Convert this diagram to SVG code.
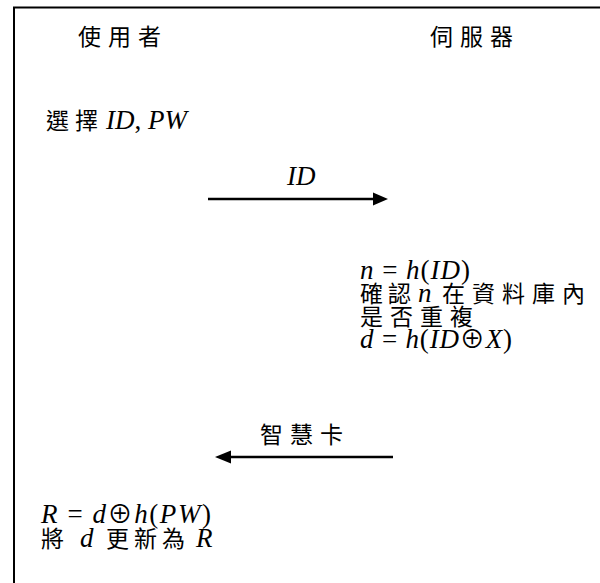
<svg xmlns="http://www.w3.org/2000/svg" width="600" height="583" viewBox="0 0 600 583">
<style>
text{font-family:"Liberation Serif","Noto Sans CJK TC",serif;font-size:27px;fill:#000}
.cjk{font-family:"Noto Sans CJK TC","Noto Sans CJK SC",sans-serif;font-size:23px}
.it{font-style:italic}
.xor{font-family:"Noto Sans CJK TC","DejaVu Sans",sans-serif;font-size:25px;font-style:normal}
.frame{fill:none;stroke:#000;stroke-width:2}
.conn{stroke:#000;stroke-width:2.5;fill:none}
.head{fill:#000}
</style>
<rect width="600" height="583" fill="#fff"/>
<path class="frame" d="M14 583 V7.5 H600"/>
<g id="user-title"><text x="78" y="45" class="cjk" letter-spacing="7">使用者</text></g>
<g id="server-title"><text x="430" y="45" class="cjk" letter-spacing="7">伺服器</text></g>
<g id="choose"><text y="129"><tspan x="46" class="cjk" letter-spacing="6">選擇</tspan><tspan x="106" class="it">ID</tspan>, <tspan class="it">PW</tspan></text></g>
<g id="connectors">
<line class="conn" x1="208" y1="199" x2="375" y2="199"/>
<polygon class="head" points="388,199 373,192.5 373,205.5"/>
<line class="conn" x1="393" y1="457" x2="228" y2="457"/>
<polygon class="head" points="215,457 231,450.5 231,463.5"/>
</g>
<g id="label-id"><text x="287" y="185" class="it">ID</text></g>
<g id="server-steps">
<text x="360" y="279" textLength="110" lengthAdjust="spacing"><tspan class="it">n</tspan> = <tspan class="it">h</tspan>(<tspan class="it">ID</tspan>)</text>
<text y="302"><tspan x="360" class="cjk" letter-spacing="5">確認</tspan><tspan x="418" class="it">n</tspan><tspan x="442" class="cjk" letter-spacing="7">在資料庫內</tspan></text>
<text y="325" class="cjk" x="360" letter-spacing="7">是否重複</text>
<text x="360" y="348" textLength="152" lengthAdjust="spacing"><tspan class="it">d</tspan> = <tspan class="it">h</tspan>(<tspan class="it">ID</tspan><tspan class="xor">⊕</tspan><tspan class="it">X</tspan>)</text>
</g>
<g id="label-card"><text x="260" y="443" class="cjk" letter-spacing="7">智慧卡</text></g>
<g id="user-steps">
<text x="41" y="523" textLength="170" lengthAdjust="spacing"><tspan class="it">R</tspan> = <tspan class="it">d</tspan><tspan class="xor">⊕</tspan><tspan class="it">h</tspan>(<tspan class="it">PW</tspan>)</text>
<text y="547"><tspan x="41" class="cjk">將</tspan><tspan x="80" class="it">d</tspan><tspan x="106" class="cjk" letter-spacing="5">更新為</tspan><tspan x="196" class="it">R</tspan></text>
</g>
</svg>
